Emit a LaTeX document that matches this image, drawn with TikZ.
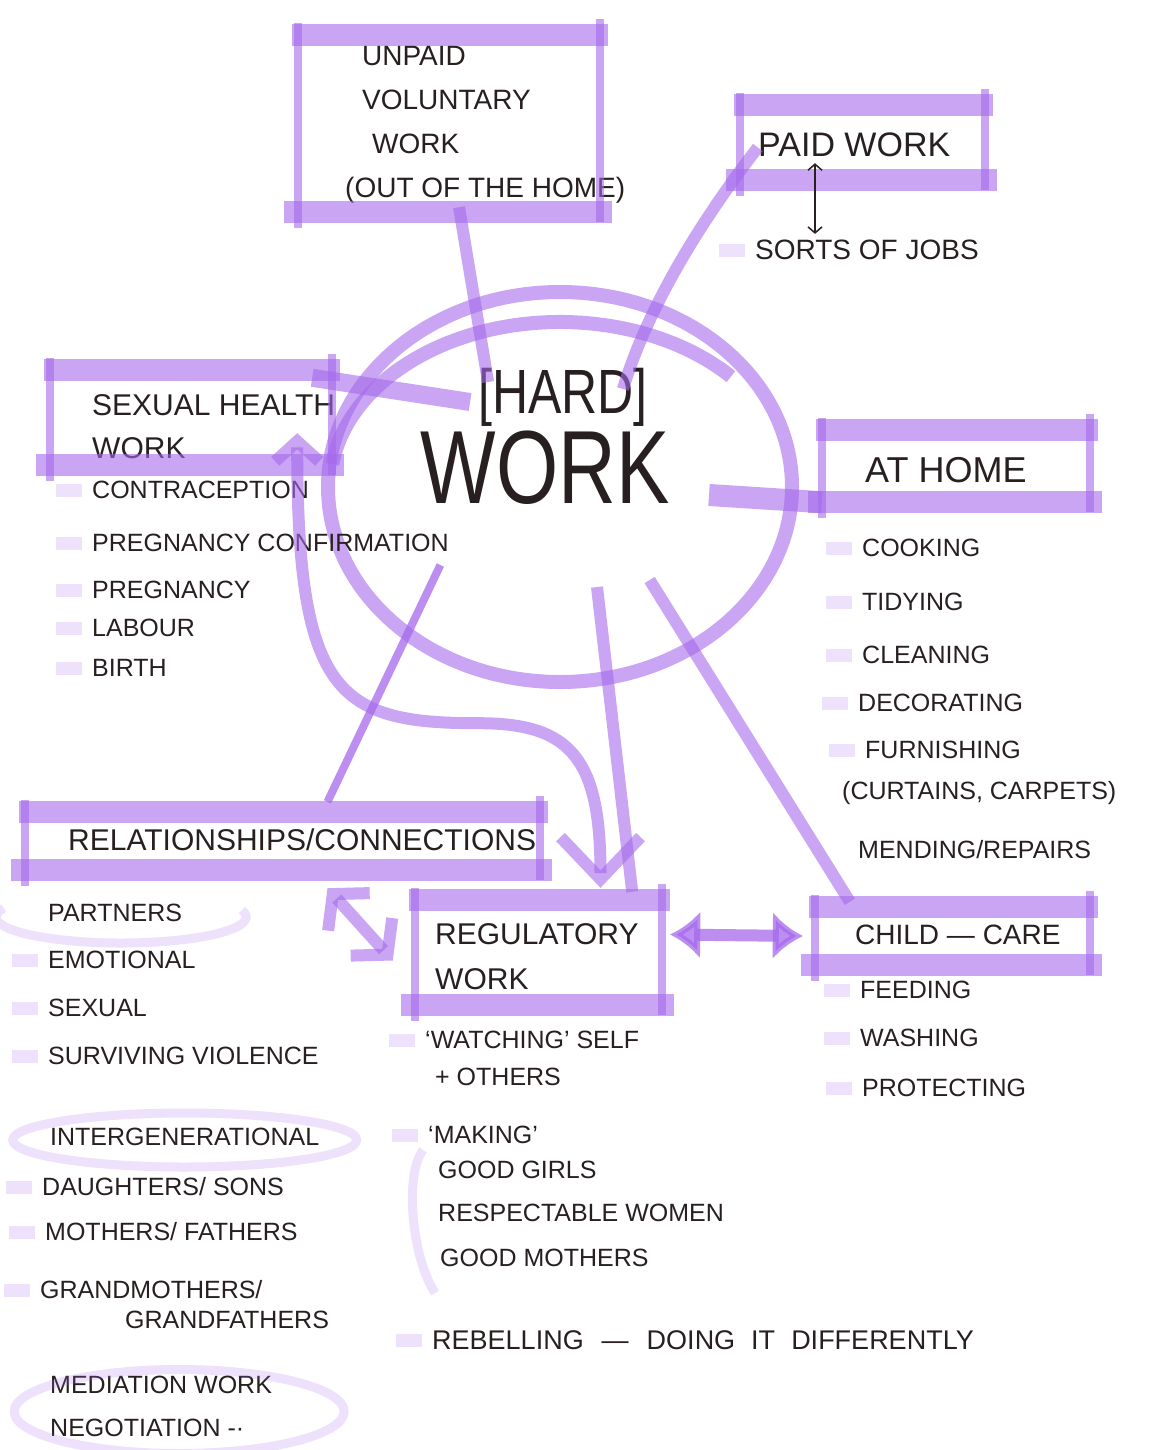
\documentclass[tikz,border=0pt]{standalone}
\usepackage{fontspec}
\setmainfont{Liberation Sans}
\usetikzlibrary{shapes.geometric,arrows.meta,calc}

\definecolor{hlPurple}{RGB}{165,105,235}
\definecolor{penInk}{RGB}{40,32,32}

% highlighter frame round a box node
\newcommand{\hlbox}[1]{%
  \draw[bar] ($(#1.north west)+(-6,0)$) -- ($(#1.north east)+(8,0)$);
  \draw[bar] ($(#1.south west)+(-14,0)$) -- ($(#1.south east)+(12,0)$);
  \draw[side] ($(#1.north west)+(0,-12)$) -- ($(#1.south west)+(0,16)$);
  \draw[side] ($(#1.north east)+(0,-16)$) -- ($(#1.south east)+(0,10)$);
}

\begin{document}
\begin{tikzpicture}[x=1pt, y=-1pt,
        hl/.style={draw=hlPurple, opacity=.6},
        bar/.style={hl, line width=22pt},
        side/.style={hl, line width=8pt},
        link/.style={hl, line width=12pt},
        ring/.style={hl, line width=14pt},
        loop/.style={draw=hlPurple, opacity=.2, line width=9pt},
        boxarea/.style={rectangle, draw=none, inner sep=0pt},
        title/.style={font=\fontsize{30}{43}\selectfont, text=penInk, anchor=west, align=left, inner sep=0pt},
        item/.style={font=\fontsize{25}{30}\selectfont, text=penInk, anchor=west, inner sep=0pt},
        tick/.style={fill=hlPurple, fill opacity=.2, minimum width=26pt, minimum height=13pt, inner sep=0pt},
        bulleted/.style={label={[tick, label distance=10pt]left:{}}},
        pen/.style={draw=penInk, line width=1.5pt}
    ]
        \useasboundingbox (0,0) rectangle (1170,1450);
        \fill[white] (0,0) rectangle (1170,1450);

        % box areas
        \node[boxarea, minimum width=302pt, minimum height=177pt] (unpaidbox) at (449,123.5) {};
        \node[boxarea, minimum width=245pt, minimum height=75pt] (paidbox) at (862.5,142.5) {};
        \node[boxarea, minimum width=282pt, minimum height=95pt] (sexbox) at (191,417.5) {};
        \node[boxarea, minimum width=268pt, minimum height=72pt] (homebox) at (956,466) {};
        \node[boxarea, minimum width=515pt, minimum height=58pt] (relbox) at (282.5,841) {};
        \node[boxarea, minimum width=247pt, minimum height=105pt] (regbox) at (538.5,952.5) {};
        \node[boxarea, minimum width=275pt, minimum height=58pt] (childbox) at (952.5,936) {};

        % titles
        \node[title, font=\fontsize{28}{44}\selectfont] (unpaid) at (345,125) {\hspace*{17pt}UNPAID\\\hspace*{17pt}VOLUNTARY\\\hspace*{27pt}WORK\\(OUT OF THE HOME)};
        \node[title, font=\fontsize{34}{40}\selectfont] (paid) at (758,145) {PAID WORK};
        \node[item, font=\fontsize{28}{32}\selectfont, bulleted] (jobs) at (755,250) {SORTS OF JOBS};
        \node[title] (sexual) at (92,427) {SEXUAL HEALTH\\WORK};
        \node[title, font=\fontsize{36}{40}\selectfont] (home) at (865,470) {AT HOME};
        \node[title] (relations) at (68,840) {RELATIONSHIPS/CONNECTIONS};
        \node[title, font=\fontsize{30}{45}\selectfont] (regulatory) at (435,957) {REGULATORY\\WORK};
        \node[title, font=\fontsize{28}{32}\selectfont] (childcare) at (855,935) {CHILD — CARE};

        % centre
        \node[ellipse, ring, minimum width=464pt, minimum height=390pt, inner sep=0pt] (core) at (560,487) {};
        \node[font=\fontsize{50}{54}\selectfont, text=penInk, inner sep=0pt] (hard) at (563,397) {\scalebox{1}[1.25]{[HARD]}};
        \node[font=\fontsize{80}{90}\selectfont, text=penInk, inner sep=0pt] (work) at (545,468) {\scalebox{1}[1.3]{WORK}};

        % lists
        \node[item, bulleted] (contra) at (92,490) {CONTRACEPTION};
        \node[item, bulleted] (confirm) at (92,543) {PREGNANCY CONFIRMATION};
        \node[item, bulleted] (pregnancy) at (92,590) {PREGNANCY};
        \node[item, bulleted] (labour) at (92,628) {LABOUR};
        \node[item, bulleted] (birth) at (92,668) {BIRTH};

        \node[item, bulleted] (cooking) at (862,548) {COOKING};
        \node[item, bulleted] (tidying) at (862,602) {TIDYING};
        \node[item, bulleted] (cleaning) at (862,655) {CLEANING};
        \node[item, bulleted] (decorating) at (858,703) {DECORATING};
        \node[item, bulleted] (furnishing) at (865,750) {FURNISHING};
        \node[item] (curtains) at (842,793) {(CURTAINS, CARPETS)};
        \node[item] (mending) at (858,850) {MENDING/REPAIRS};

        \node[item] (partners) at (48,913) {PARTNERS};
        \node[item, bulleted] (emotional) at (48,960) {EMOTIONAL};
        \node[item, bulleted] (sexualrel) at (48,1008) {SEXUAL};
        \node[item, bulleted] (violence) at (48,1056) {SURVIVING VIOLENCE};
        \node[item] (intergen) at (50,1137) {INTERGENERATIONAL};
        \node[item, bulleted] (daughters) at (42,1187) {DAUGHTERS/ SONS};
        \node[item, bulleted] (mothers) at (45,1232) {MOTHERS/ FATHERS};
        \node[item, bulleted] (grandmothers) at (40,1290) {GRANDMOTHERS/};
        \node[item] (grandfathers) at (125,1320) {GRANDFATHERS};
        \node[item] (mediation) at (50,1385) {MEDIATION WORK};
        \node[item] (negotiation) at (50,1428) {NEGOTIATION -·};

        \node[item, bulleted] (watching) at (425,1040) {‘WATCHING’ SELF};
        \node[item] (others) at (435,1077) {+ OTHERS};
        \node[item, bulleted] (making) at (428,1135) {‘MAKING’};
        \node[item] (goodgirls) at (438,1170) {GOOD GIRLS};
        \node[item] (respectable) at (438,1213) {RESPECTABLE WOMEN};
        \node[item] (goodmothers) at (440,1258) {GOOD MOTHERS};
        \node[item, font=\fontsize{27}{30}\selectfont, bulleted] (rebelling) at (432,1340) {REBELLING\hspace{18pt}—\hspace{18pt}DOING\hspace{16pt}IT\hspace{16pt}DIFFERENTLY};

        \node[item, bulleted] (feeding) at (860,990) {FEEDING};
        \node[item, bulleted] (washing) at (860,1038) {WASHING};
        \node[item, bulleted] (protecting) at (862,1088) {PROTECTING};

        % highlighter frames
        \hlbox{unpaidbox}
        \hlbox{paidbox}
        \hlbox{sexbox}
        \hlbox{homebox}
        \hlbox{relbox}
        \hlbox{regbox}
        \hlbox{childbox}
        \draw[ring] (core.center) ++(188:230 and 165) arc[start angle=188, end angle=318, x radius=230, y radius=165];

        % connectors
        \draw[link] ($(unpaidbox.south)+(10,-5)$) -- ($(hard.west)+(10,-15)$);
        \draw[link] ($(paidbox.west)+(18,5)$) .. controls ($(paidbox.west)+(-40,80)$) and ($(hard.east)+(0,-90)$) .. ($(hard.east)+(-25,-8)$);
        \draw[bar, line width=18pt] ($(sexbox.north east)+(-20,8)$) -- ($(hard.west)+(-8,5)$);
        \draw[bar] ($(core.east)+(-90,8)$) -- (homebox.south west);
        \coordinate (sxtip) at ($(sexbox.south east)+(-35,-32)$);
        \coordinate (rgtip) at ($(regbox.north)+(62,-12)$);
        \draw[link, {Straight Barb[length=20pt,width=44pt]}-{Straight Barb[length=42pt,width=80pt]}] (sxtip) .. controls ($(sxtip)+(0,260)$) and ($(sxtip)+(40,290)$) .. ($(sxtip)+(180,290)$) .. controls ($(rgtip)+(-30,-165)$) and ($(rgtip)+(0,-130)$) .. (rgtip);
        \draw[link, line width=8pt, opacity=.75] ($(work.south west)+(20,60)$) -- ($(relbox.north)+(45,-10)$);
        \draw[link] ($(work.south)+(52,82)$) -- ($(regbox.north east)+(-30,-8)$);
        \draw[link] ($(work.south east)+(-20,75)$) -- ($(childbox.north west)+(35,-5)$);
        \draw[link, {Straight Barb[length=24pt,width=56pt]}-{Straight Barb[length=24pt,width=56pt]}] ($(relbox.south)+(45,18)$) -- ($(regbox.west)+(-22,8)$);
        \draw[link, opacity=.75, {Latex[length=30pt,width=48pt]}-{Latex[length=30pt,width=48pt]}] ($(regbox.east)+(8,-18)$) -- ($(childbox.west)+(-12,0)$);
        \draw[pen, {Straight Barb[length=6pt,width=14pt]}-{Straight Barb[length=6pt,width=14pt]}] ($(paid.south west)+(57,6)$) -- ($(jobs.north west)+(60,-6)$);

        % pink loops
        \draw[loop] ($(partners.center)+(6,4)$) ++(-15:125 and 26) arc[start angle=-15, end angle=200, x radius=125, y radius=26];
        \draw[loop] ($(intergen.center)+(0,3)$) ellipse [x radius=172, y radius=27];
        \draw[loop] ($(mediation.center)!.5!(negotiation.center)+(25,5)$) ellipse [x radius=165, y radius=42];
        \draw[loop] ($(making.west)+(-5,15)$) .. controls ($(making.west)+(-24,40)$) and ($(goodmothers.west)+(-28,0)$) .. ($(goodmothers.west)+(-5,35)$);
    \end{tikzpicture}
\end{document}
